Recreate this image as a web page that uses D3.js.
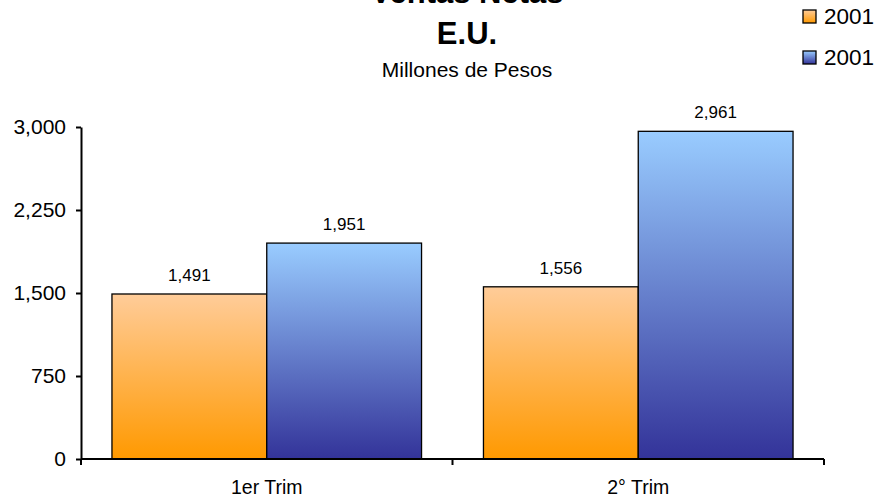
<!DOCTYPE html>
<html>
<head>
<meta charset="utf-8">
<script src="https://cdn.jsdelivr.net/npm/d3@7"></script>
<style>
  html, body { margin: 0; padding: 0; background: #fff; }
  svg { display: block; font-family: "Liberation Sans", Arial, sans-serif; }
</style>
</head>
<body>
<svg id="chart" width="883" height="501"></svg>
<script>
// Ventas netas E.U., millones de pesos
const categories = ["1er Trim", "2° Trim"];
const seriesNames = ["2001 a", "2001 b"];
const seriesLabels = ["2001", "2001"];
const valuesA = [1491, 1556];
const valuesB = [1951, 2961];
const yTicks = [0, 750, 1500, 2250, 3000];

const svg = d3.select("#chart");
const W = 883, H = 501;
const margin = { left: 81, right: 59, top: 127, bottom: 42 };
const x0Range = [margin.left, W - margin.right];
const yRange = [H - margin.bottom, margin.top];

const defs = svg.append("defs");
const gradStops = [
  ["gradA", "#FFCC99", "#FF9900"],
  ["gradB", "#99CCFF", "#333399"]
];
gradStops.forEach(([id, top, bottom]) => {
  const g = defs.append("linearGradient").attr("id", id)
    .attr("x1", 0).attr("y1", 0).attr("x2", 0).attr("y2", 1);
  g.append("stop").attr("offset", "0%").attr("stop-color", top);
  g.append("stop").attr("offset", "100%").attr("stop-color", bottom);
});
const fills = { "2001 a": "url(#gradA)", "2001 b": "url(#gradB)" };

const x0 = d3.scaleBand().domain(categories).range(x0Range).padding(0);
const x1 = d3.scaleBand().domain(seriesNames).range([0, x0.bandwidth()])
  .paddingInner(0).paddingOuter(0.2);
const y = d3.scaleLinear().domain([0, 3000]).range(yRange);

const rows = categories.map((c, i) => ({
  cat: c,
  vals: [
    { s: seriesNames[0], v: valuesA[i] },
    { s: seriesNames[1], v: valuesB[i] }
  ]
}));

// bars
const groups = svg.append("g").selectAll("g").data(rows).join("g")
  .attr("transform", d => `translate(${x0(d.cat)},0)`);
groups.selectAll("rect").data(d => d.vals).join("rect")
  .attr("x", d => x1(d.s))
  .attr("y", d => y(d.v))
  .attr("width", x1.bandwidth())
  .attr("height", d => y(0) - y(d.v))
  .attr("fill", d => fills[d.s])
  .attr("stroke", "#000")
  .attr("stroke-width", 1.3);

// value labels
const fmt = d3.format(",");
groups.selectAll("text").data(d => d.vals).join("text")
  .attr("x", d => x1(d.s) + x1.bandwidth() / 2)
  .attr("y", d => y(d.v) - 13)
  .attr("text-anchor", "middle")
  .attr("font-size", 17)
  .attr("fill", "#000")
  .text(d => fmt(d.v));

// y axis
const yAxis = svg.append("g")
  .attr("transform", `translate(${margin.left},0)`)
  .call(d3.axisLeft(y).tickValues(yTicks).tickFormat(fmt).tickSize(5).tickSizeOuter(0).tickPadding(10));
yAxis.select(".domain").attr("stroke", "#000").attr("stroke-width", 2);
yAxis.selectAll(".tick line").attr("stroke", "#000").attr("stroke-width", 2);
yAxis.selectAll(".tick text").attr("font-size", 21).attr("fill", "#000")
  .attr("font-family", "Liberation Sans, Arial, sans-serif");

// x axis with boundary ticks
const xAxisG = svg.append("g").attr("transform", `translate(0,${y(0)})`);
xAxisG.append("line")
  .attr("x1", x0Range[0]).attr("x2", x0Range[1])
  .attr("stroke", "#000").attr("stroke-width", 2);
const boundaries = categories.map(c => x0(c)).concat([x0Range[1]]);
xAxisG.selectAll("line.tk").data(boundaries).join("line").attr("class", "tk")
  .attr("x1", d => d).attr("x2", d => d).attr("y1", 0).attr("y2", 6)
  .attr("stroke", "#000").attr("stroke-width", 2);
xAxisG.selectAll("text").data(categories).join("text")
  .attr("x", d => x0(d) + x0.bandwidth() / 2)
  .attr("y", 35)
  .attr("text-anchor", "middle")
  .attr("font-size", 19.5)
  .attr("fill", "#000")
  .text(d => d);

// titles
const cx = 467;
svg.append("text").attr("x", cx).attr("y", 3).attr("text-anchor", "middle")
  .attr("font-size", 31).attr("font-weight", "bold").text("Ventas Netas");
svg.append("text").attr("x", cx).attr("y", 44).attr("text-anchor", "middle")
  .attr("font-size", 31).attr("font-weight", "bold").text("E.U.");
svg.append("text").attr("x", cx).attr("y", 77).attr("text-anchor", "middle")
  .attr("font-size", 21).text("Millones de Pesos");

// legend
const legend = svg.append("g");
const legendItems = seriesNames.map((s, i) => ({ s, label: seriesLabels[i], i }));
const lg = legend.selectAll("g").data(legendItems).join("g")
  .attr("transform", d => `translate(803,${10 + d.i * 41})`);
lg.append("rect").attr("width", 13).attr("height", 13)
  .attr("fill", d => fills[d.s]).attr("stroke", "#000").attr("stroke-width", 1.3);
lg.append("text").attr("x", 21).attr("y", 14).attr("font-size", 22.5)
  .attr("fill", "#000").text(d => d.label);
</script>
</body>
</html>
